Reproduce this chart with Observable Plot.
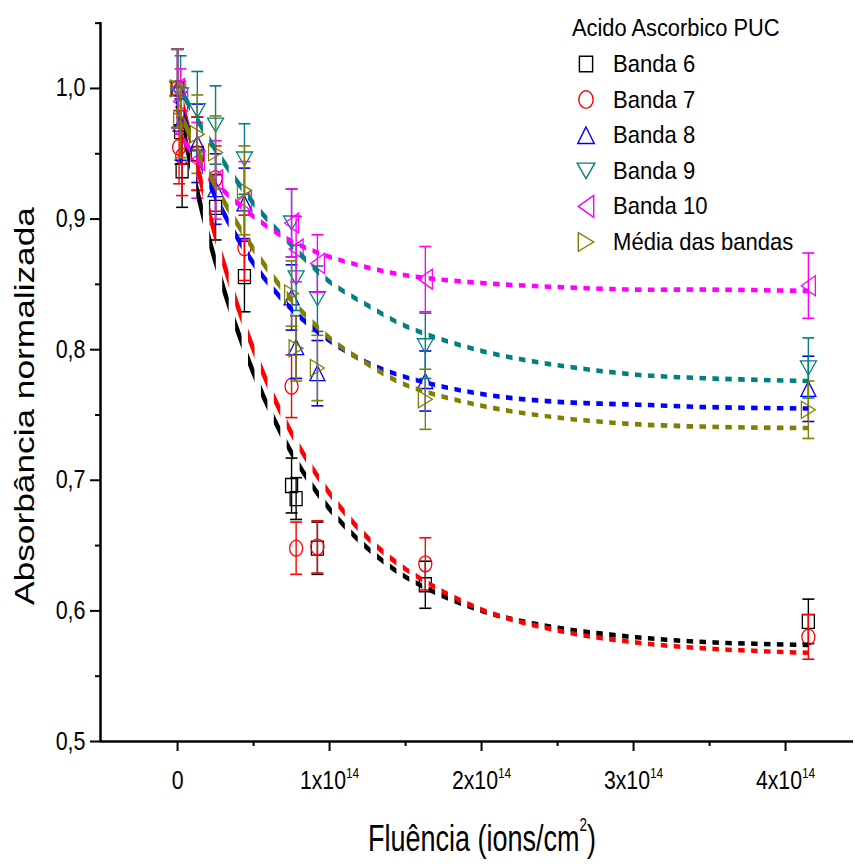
<!DOCTYPE html>
<html><head><meta charset="utf-8">
<script src="https://cdn.jsdelivr.net/npm/d3@7"></script>
<script src="https://cdn.jsdelivr.net/npm/@observablehq/plot@0.6"></script>
<style>html,body{margin:0;padding:0;background:#fff;} #chart svg{display:block;}</style>
</head><body><div id="chart"></div>
<script>
// ---- Data (fluence in units of 1e14 ions/cm^2) ----
const fluence6 = [0, 0.02, 0.03, 0.13, 0.25, 0.44, 0.75, 0.78, 0.92, 1.63, 4.15];
const banda6   = [1.0, 0.967, 0.937, 0.950, 0.909, 0.856, 0.696, 0.686, 0.648, 0.620, 0.592];
const err6     = [0.03, 0.025, 0.028, 0.028, 0.025, 0.027, 0.021, 0.016, 0.020, 0.018, 0.017];

const fluence7 = [0, 0.01, 0.03, 0.13, 0.25, 0.44, 0.75, 0.78, 0.92, 1.63, 4.15];
const banda7   = [1.0, 0.955, 0.948, 0.950, 0.931, 0.878, 0.772, 0.648, 0.649, 0.636, 0.580];
const err7     = [0.03, 0.028, 0.030, 0.028, 0.025, 0.025, 0.024, 0.020, 0.020, 0.020, 0.017];

const fluence8 = [0, 0.02, 0.13, 0.25, 0.44, 0.75, 0.78, 0.92, 1.63, 4.15];
const banda8   = [1.0, 0.973, 0.958, 0.923, 0.912, 0.840, 0.802, 0.782, 0.776, 0.770];
const err8     = [0.03, 0.028, 0.030, 0.027, 0.027, 0.025, 0.024, 0.025, 0.023, 0.025];

const fluence9 = [0, 0.02, 0.13, 0.25, 0.44, 0.75, 0.78, 0.92, 1.63, 4.15];
const banda9   = [1.0, 0.995, 0.983, 0.972, 0.946, 0.897, 0.855, 0.839, 0.803, 0.786];
const err9     = [0.03, 0.030, 0.030, 0.030, 0.027, 0.026, 0.025, 0.025, 0.025, 0.023];

const fluence10 = [0, 0.02, 0.13, 0.25, 0.44, 0.75, 0.78, 0.92, 1.63, 4.15];
const banda10   = [1.0, 0.990, 0.945, 0.930, 0.914, 0.897, 0.877, 0.866, 0.854, 0.849];
const err10     = [0.03, 0.025, 0.029, 0.030, 0.030, 0.026, 0.025, 0.022, 0.025, 0.025];

const fluenceM = [0, 0.02, 0.13, 0.25, 0.44, 0.75, 0.78, 0.92, 1.63, 4.15];
const media    = [1.0, 0.975, 0.965, 0.951, 0.922, 0.843, 0.801, 0.786, 0.762, 0.754];
const errM     = [0.03, 0.028, 0.030, 0.028, 0.034, 0.025, 0.025, 0.025, 0.023, 0.022];

// Fitted curves
const fitX  = [0, 0.25, 0.5, 0.75, 1.0, 1.25, 1.5, 2.0, 2.5, 3.0, 3.5, 4.15];
const fit6  = [0.987, 0.867, 0.782, 0.721, 0.678, 0.648, 0.626, 0.600, 0.587, 0.580, 0.576, 0.574];
const fit7  = [1.004, 0.887, 0.800, 0.736, 0.690, 0.656, 0.632, 0.601, 0.585, 0.576, 0.571, 0.568];
const fit8  = [0.991, 0.917, 0.866, 0.831, 0.807, 0.790, 0.779, 0.766, 0.760, 0.758, 0.756, 0.755];
const fit9  = [1.003, 0.953, 0.912, 0.880, 0.852, 0.834, 0.818, 0.799, 0.788, 0.781, 0.778, 0.776];
const fit10 = [0.967, 0.928, 0.902, 0.883, 0.871, 0.863, 0.857, 0.851, 0.848, 0.846, 0.846, 0.845];
const fitM  = [0.985, 0.925, 0.877, 0.838, 0.809, 0.789, 0.773, 0.757, 0.748, 0.743, 0.741, 0.740];

const seriesNames = ["Banda 6", "Banda 7", "Banda 8", "Banda 9", "Banda 10", "Média das bandas"];
const yMajor = [0.5, 0.6, 0.7, 0.8, 0.9, 1.0];
const yMinor = [0.55, 0.65, 0.75, 0.85, 0.95, 1.05];
const xMajor = [0, 1, 2, 3, 4];
const xMinor = [0.5, 1.5, 2.5, 3.5];
const legendTitle = "Acido Ascorbico PUC";
const xTitle = "Fluência (ions/cm";
const yTitle = "Absorbância normalizada";

// ---- Symbols ----
function poly(pts) {
  return {draw(ctx) { ctx.moveTo(pts[0][0], pts[0][1]); for (let i = 1; i < pts.length; i++) ctx.lineTo(pts[i][0], pts[i][1]); ctx.closePath(); }};
}
function ellipse(rx, ry) {
  const k = 0.5523;
  return {draw(ctx) {
    ctx.moveTo(rx, 0);
    ctx.bezierCurveTo(rx, ry * k, rx * k, ry, 0, ry);
    ctx.bezierCurveTo(-rx * k, ry, -rx, ry * k, -rx, 0);
    ctx.bezierCurveTo(-rx, -ry * k, -rx * k, -ry, 0, -ry);
    ctx.bezierCurveTo(rx * k, -ry, rx, -ry * k, rx, 0);
    ctx.closePath();
  }};
}
const shapes = {
  square: poly([[-6, -7], [6, -7], [6, 7], [-6, 7]]),
  circle: ellipse(6.5, 8),
  up: poly([[0, -7.5], [7.5, 7.5], [-7.5, 7.5]]),
  down: poly([[-8, -7], [8, -7], [0, 7]]),
  left: poly([[-7, 0], [7, -10], [7, 10]]),
  right: poly([[-7, -8.5], [7, 0], [-7, 8.5]])
};
const capSym = {draw(ctx) { ctx.moveTo(-6, 0); ctx.lineTo(6, 0); }};

const series = [
  {name: seriesNames[0], x: fluence6, y: banda6, e: err6, fit: fit6, color: "#000000", shape: "square"},
  {name: seriesNames[1], x: fluence7, y: banda7, e: err7, fit: fit7, color: "#ff0000", shape: "circle"},
  {name: seriesNames[2], x: fluence8, y: banda8, e: err8, fit: fit8, color: "#0000ff", shape: "up"},
  {name: seriesNames[3], x: fluence9, y: banda9, e: err9, fit: fit9, color: "#008080", shape: "down"},
  {name: seriesNames[4], x: fluence10, y: banda10, e: err10, fit: fit10, color: "#ff00ff", shape: "left"},
  {name: seriesNames[5], x: fluenceM, y: media, e: errM, fit: fitM, color: "#808000", shape: "right"}
];

const xDomain = [-0.507, 4.447];
const yDomain = [0.5, 1.0505];

const marks = [
  Plot.axisY({ticks: yMajor, tickSize: 10, tickPadding: 5, strokeWidth: 2, fontSize: 25,
              tickFormat: d => d.toFixed(1).replace(".", ","), label: null}),
  Plot.axisY({ticks: yMinor, tickSize: 5, strokeWidth: 2, tickFormat: () => "", label: null}),
  Plot.axisX({ticks: xMajor, tickSize: 10, tickPadding: 20, strokeWidth: 2, fontSize: 25,
              tickFormat: d => d === 0 ? "0" : `${d}x10`, label: null}),
  Plot.axisX({ticks: xMinor, tickSize: 5, strokeWidth: 2, tickFormat: () => "", label: null}),
];

for (const s of series) {
  const pts = s.x.map((x, i) => ({x, y: s.y[i], lo: s.y[i] - s.e[i], hi: s.y[i] + s.e[i]}));
  marks.push(Plot.ruleX(pts, {x: "x", y1: "lo", y2: "hi", stroke: s.color, strokeWidth: 1.4}));
  marks.push(Plot.dot(pts, {x: "x", y: "lo", symbol: capSym, stroke: s.color, fill: "none", strokeWidth: 1.6}));
  marks.push(Plot.dot(pts, {x: "x", y: "hi", symbol: capSym, stroke: s.color, fill: "none", strokeWidth: 1.6}));
  marks.push(Plot.dot(pts, {x: "x", y: "y", symbol: shapes[s.shape], stroke: s.color, fill: "none", strokeWidth: 1.3}));
}
for (const s of series) {
  const line = fitX.map((x, i) => ({x, y: s.fit[i]}));
  marks.push(Plot.line(line, {x: "x", y: "y", stroke: s.color, strokeWidth: 4.6, curve: "catmull-rom"}));
}
marks.push(Plot.ruleX([xDomain[0]], {strokeWidth: 2.5}));
marks.push(Plot.ruleY([yDomain[0]], {strokeWidth: 2.5}));

const chart = Plot.plot({
  width: 855, height: 864,
  marginLeft: 100, marginRight: 2, marginTop: 22, marginBottom: 123,
  x: {domain: xDomain},
  y: {domain: yDomain},
  style: {fontFamily: "'Liberation Sans', Arial, sans-serif", background: "#fff", color: "#000"},
  marks
});
document.getElementById("chart").appendChild(chart);

const svg = d3.select(chart);
const ns = "http://www.w3.org/2000/svg";

// Condense tick labels & add superscripts
chart.querySelectorAll("text").forEach(t => {
  const txt = t.textContent;
  if (/^\d,\d$/.test(txt)) {
    t.setAttribute("transform", (t.getAttribute("transform") || "") + " scale(0.86,1)");
  } else if (/^\dx10$/.test(txt) || txt === "0") {
    if (txt !== "0") {
      const sp = document.createElementNS(ns, "tspan");
      sp.setAttribute("dy", "-11");
      sp.setAttribute("font-size", "14");
      sp.textContent = "14";
      t.appendChild(sp);
    }
    t.setAttribute("transform", (t.getAttribute("transform") || "") + " scale(0.85,1)");
  }
});

// Dashed look: vertical stripes clip on fit lines (dashes uniform in x)
const defs = svg.append("defs");
const clip = defs.append("clipPath").attr("id", "dashclip").attr("clipPathUnits", "userSpaceOnUse");
const period = 12.9, phase = 725.3 % 12.9;
for (let k = -1; k < 70; k++) {
  clip.append("rect").attr("x", phase + k * period - 0.5).attr("y", -10).attr("width", 6.5).attr("height", 900);
}
svg.selectAll('g[aria-label="line"]').attr("clip-path", "url(#dashclip)").attr("stroke-linecap", "butt");

// Axis titles
const ff = "'Liberation Sans', Arial, sans-serif";
svg.append("text").attr("font-family", ff).attr("font-size", 28).attr("text-anchor", "middle").attr("fill", "#000")
  .attr("transform", "translate(34,406) rotate(-90) scale(1.26,1)").text(yTitle);
const xt = svg.append("text").attr("font-family", ff).attr("font-size", 36).attr("text-anchor", "middle").attr("fill", "#000")
  .attr("transform", "translate(482,851) scale(0.75,1)");
xt.append("tspan").text(xTitle);
xt.append("tspan").attr("font-size", 18).attr("dy", -20).text("2");
xt.append("tspan").attr("dy", 20).text(")");

// Legend
const lg = svg.append("g").attr("font-family", ff).attr("fill", "#000").attr("text-anchor", "start");
lg.append("text").attr("font-size", 24).attr("text-anchor", "start").attr("transform", "translate(572,36) scale(0.91,1)").text(legendTitle);
series.forEach((s, i) => {
  const by = 72 + i * 35.6;
  const p = d3.path();
  shapes[s.shape].draw(p);
  lg.append("path").attr("d", p.toString()).attr("fill", "none").attr("stroke", s.color).attr("stroke-width", 1.3)
    .attr("transform", `translate(586,${by - 8}) scale(1.1)`);
  lg.append("text").attr("font-size", 24).attr("text-anchor", "start").attr("transform", `translate(613,${by}) scale(0.92,1)`).text(s.name);
});
</script></body></html>
